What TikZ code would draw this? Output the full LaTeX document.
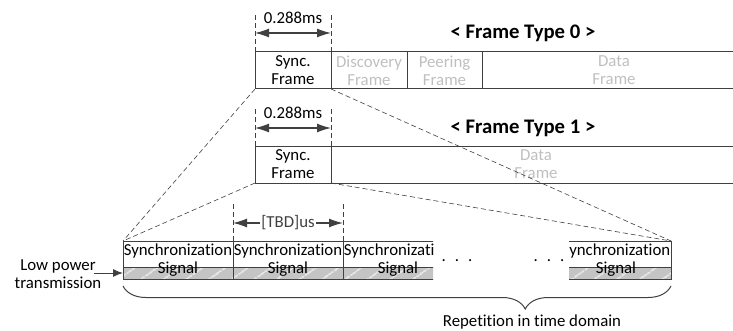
\documentclass[tikz,border=0pt]{standalone}
\usepackage{fontspec}
\setmainfont[Ligatures=NoCommon]{Carlito}
\usetikzlibrary{positioning,arrows.meta,decorations.pathreplacing,patterns.meta}

\definecolor{linegray}{HTML}{404040}
\definecolor{fadegray}{HTML}{BFBFBF}
\definecolor{stripgray}{HTML}{C4C4C4}

\begin{document}
\begin{tikzpicture}[x=1pt,y=1pt,font=\fontsize{16.8}{18}\selectfont,
box/.style={draw=linegray, line width=1pt, align=center, inner sep=0pt, outer sep=0pt, minimum height=37pt},
faded/.style={text=fadegray},
sigbox/.style={box, minimum width=110pt, minimum height=38pt,
  path picture={
    \fill[stripgray] (path picture bounding box.south west) rectangle ([yshift=12pt]path picture bounding box.south east);
    \path[pattern={Lines[angle=35,distance=13pt,line width=1.6pt]}, pattern color=white!70!stripgray]
      (path picture bounding box.south west) rectangle ([yshift=12pt]path picture bounding box.south east);
    \draw[linegray, line width=0.8pt] ([yshift=12pt]path picture bounding box.south west) -- ([yshift=12pt]path picture bounding box.south east);}},
dim/.style={linegray, line width=1.3pt, {Latex[length=14pt,width=9pt]}-{Latex[length=14pt,width=9pt]}},
guide/.style={linegray, line width=0.6pt, dash pattern=on 5pt off 3pt},
title/.style={font=\fontsize{20.7}{24}\selectfont\bfseries}]

\useasboundingbox (0,0) rectangle (733,330);

% frame type 0
\node[box, minimum width=76pt, anchor=north west] (sync0) at (255,278) {Sync.\\Frame};
\node[box, faded, minimum width=76pt, right=0pt of sync0] (disc0) {Discovery\\Frame};
\node[box, faded, minimum width=75pt, right=0pt of disc0] (peer0) {Peering\\Frame};
\node[box, faded, minimum width=264pt, right=0pt of peer0] (data0) {Data\\Frame};
\node[title] (title0) at (523,297) {< Frame Type 0 >};
\draw[guide] (sync0.north west) -- ++(0,39);
\draw[guide] (sync0.north east) -- ++(0,39);
\draw[dim] ([yshift=19pt]sync0.north west) -- ([yshift=19pt]sync0.north east);
\node (len0) at ([yshift=34pt]sync0.north) {0.288ms};

% frame type 1
\node[box, minimum width=76pt, anchor=north west] (sync1) at (255,184) {Sync.\\Frame};
\node[box, faded, minimum width=410pt, right=0pt of sync1] (data1) {Data\\Frame};
\node[title] (title1) at (523,202) {< Frame Type 1 >};
\draw[guide] (sync1.north west) -- ++(0,38);
\draw[guide] (sync1.north east) -- ++(0,38);
\draw[dim] ([yshift=18pt]sync1.north west) -- ([yshift=18pt]sync1.north east);
\node (len1) at ([yshift=33pt]sync1.north) {0.288ms};

% synchronization signals
\node[sigbox, anchor=north west] (sig1) at (123,89) {Synchronization\\Signal};
\node[sigbox, right=0pt of sig1] (sig2) {Synchronization\\Signal};
\begin{scope}
\clip (340,40) rectangle (433,95);
\node[sigbox, right=0pt of sig2] (sig3) {\rlap{Synchronizati}\phantom{Synchronization}\\Signal};
\end{scope}
\begin{scope}
\clip (569,40) rectangle (680,95);
\node[sigbox, anchor=north east] (sig4) at (671,89) {Synchronization\\Signal};
\end{scope}
\node (dotsL) at (457,69) {.\hspace{9pt}.\hspace{9pt}.};
\node (dotsR) at (549,69) {.\hspace{9pt}.\hspace{9pt}.};

\draw[guide] (sig2.north west) -- ++(0,38);
\draw[guide] (sig2.north east) -- ++(0,38);
\draw[dim] ([yshift=18pt]sig2.north west) -- node[fill=white, inner sep=1pt] {[TBD]us} ([yshift=18pt]sig2.north east);

\node[align=center] (lowpw) at (58,56) {Low power\\transmission};
\draw[linegray, line width=1pt, -{Latex[length=10pt,width=8pt]}] ([xshift=-11pt,yshift=1pt]lowpw.east) -- ([yshift=6pt]sig1.south west);

% zoom lines
\draw[guide] (sync0.south west) -- (sig1.north west);
\draw[guide] (sync0.south east) -- (sig4.north east);
\draw[guide] (sync1.south west) -- (sig1.north west);
\draw[guide] (sync1.south east) -- (sig4.north east);

\draw[linegray, line width=1pt, decorate, decoration={brace, mirror, amplitude=23pt, aspect=0.734}] ([yshift=-7pt]sig1.south west) -- ([yshift=-7pt]sig4.south east);
\node (rep) at (532,8) {Repetition in time domain};
\end{tikzpicture}
\end{document}
